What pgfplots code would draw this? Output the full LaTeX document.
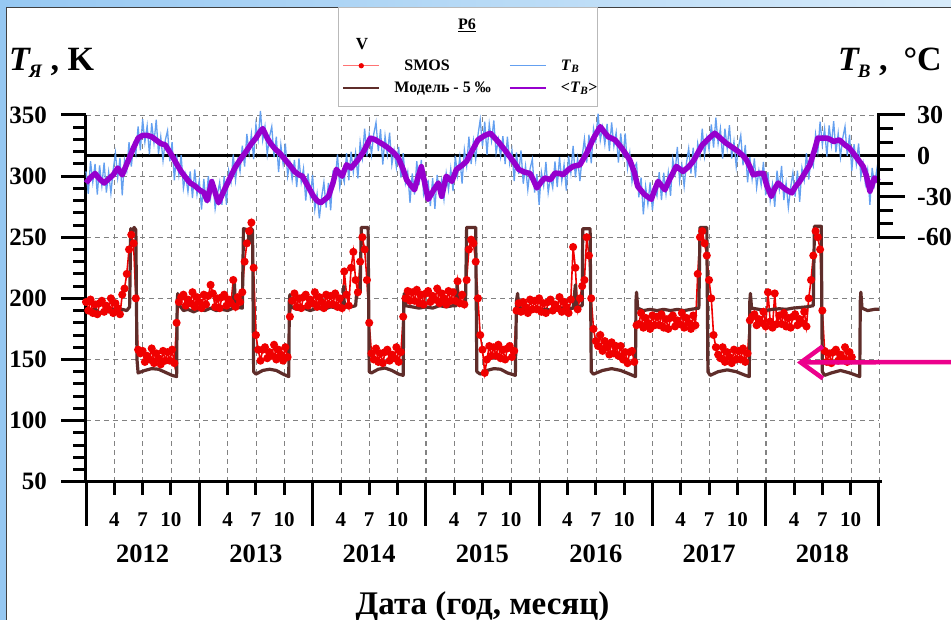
\documentclass[border=0pt]{standalone}
\usepackage{fontspec}
\setmainfont{Liberation Serif}
\usepackage{pgfplots}
\pgfplotsset{compat=1.18}
\usepackage{pgfplotstable}
\usetikzlibrary{arrows.meta}

\definecolor{tbblue}{RGB}{100,160,240}
\definecolor{tbpurple}{RGB}{150,0,205}
\definecolor{modelbrown}{RGB}{95,45,42}
\definecolor{smosred}{RGB}{240,0,0}
\definecolor{gridgray}{RGB}{130,130,130}
\definecolor{edgeblue}{RGB}{150,200,242}
\definecolor{topblueR}{RGB}{215,235,250}

\newcommand{\fs}[1]{\fontsize{#1}{#1}\selectfont\bfseries}

\pgfplotsset{
 base/.style={at={(86pt,138.3pt)}, anchor=south west, scale only axis,
   width=793pt, height=366.7pt, xmin=2012, xmax=2019},
 gridsty/.style={grid style={dash pattern=on 5pt off 4pt, gridgray, line width=0.8pt}},
 thickticks/.style={tick style={black,line width=3pt}, major tick style={line width=3pt}, minor tick style={line width=3pt}},
}

% T_B (air temperature, deg C), sampled every 0.02 yr from 2012.00
\pgfplotstableread[row sep=\\]{
y\\
-11.5\\-28\\-4\\-19.5\\-6\\-28.5\\-7\\-22\\-5\\-27\\
-12\\-27.5\\-10.5\\2\\-16\\-1.5\\-29\\-3\\-11\\10\\
-8\\8\\1\\21.5\\4\\27\\10\\22\\1\\24\\
9.5\\26.5\\1.5\\14\\-3.5\\11.5\\18.5\\-4\\10\\-18\\
1\\-14\\0.5\\-24\\-14\\-26.5\\-11.5\\-31\\-10\\-28.5\\
-18\\-39.5\\-17\\-34.5\\-15\\-30.5\\-17\\-39\\-28.5\\-19.5\\
-36\\-15\\-36\\-11\\-19.5\\1\\-18\\-3.5\\-11.5\\7.5\\
-8\\16\\1.5\\16\\-2.5\\23\\12\\33\\11.5\\21.5\\
1\\14\\21.5\\-1\\14\\-12\\8\\-6\\9\\-15\\
-5\\-17.5\\-3\\-23\\-2\\-19.5\\-9.5\\-33\\-13\\-30\\
-14\\-39.5\\-28\\-46\\-30.5\\-19.5\\-38\\-20\\-40\\-13\\
-18\\1\\-23\\-13\\-19.5\\1.9\\-18\\3\\-12\\2\\
-16.5\\10\\-1.5\\20\\-0.5\\16\\1\\16\\24.5\\3.5\\
19.5\\-6.5\\14.5\\1\\17\\-6.5\\4\\-8.5\\6.5\\-16\\
2\\-20\\-12\\-34.5\\-13\\-28.5\\-4\\-21.5\\-3\\-28\\
-20.5\\-18.5\\-37\\-16.5\\-39\\-14\\-28\\-17.8\\-32\\-13\\
-25\\-9.5\\-26\\0\\-14.5\\-1\\-20.5\\4.5\\-7.5\\14\\
-6\\11\\-3\\15.2\\26.5\\7\\25\\0.8\\23.4\\11\\
26\\2\\12\\-0.5\\14.5\\-6\\14\\-5.5\\4\\-18.5\\
2.5\\-13.5\\4\\-20.5\\-7.5\\-25\\-9.5\\-2.5\\-27\\-13.6\\
-36\\-12\\-22\\-4.5\\-27\\-15.6\\-23.5\\-4.2\\-23\\-1\\
-18.5\\-6.5\\-25.5\\0\\-12.5\\7.2\\-15.9\\-2\\-18.6\\-0.5\\
12.5\\-5\\15.5\\-5.5\\20\\11\\31\\11.4\\21\\8.5\\
23.5\\3.5\\24.5\\7\\17\\-5\\16.5\\0.5\\16.5\\-9\\
2\\-19\\-8.5\\-5.5\\-30.5\\-16\\-43\\-22.5\\-35.5\\-19.5\\
-40\\-23\\-29.5\\-12\\-32.5\\-12.5\\-28\\-12.5\\-29.5\\-2.5\\
-12.5\\6.5\\-18.5\\-6.5\\-22.5\\-5.5\\5.5\\-13\\6\\-16\\
9\\0\\20\\0\\13.5\\4.5\\23\\6\\28\\9\\
20\\-2\\20\\5.5\\22.5\\-2\\10.5\\-8\\6.5\\15\\
-7\\8\\-19.5\\-1\\-17\\-2\\-23.5\\-11\\-21.5\\-4.5\\
-29\\-12\\-33\\-21\\-37.5\\-11\\-24.5\\-7.5\\-32.5\\-20\\
-38\\-23.5\\-12.5\\-30\\-11\\-33.8\\-9\\-18\\2\\-17.5\\
-2\\-7.5\\15.5\\3\\25\\8\\20\\-0.5\\22.3\\8\\
25.5\\2.5\\16.5\\-1\\13\\21.5\\0\\15.6\\-11\\8.5\\
-6\\9\\-15.5\\-5.8\\-20.5\\-10.5\\-36\\-9\\-21.3\\-10.5\\
-32.3\\
}\tblue

% SMOS brightness temperature (K), sampled every 0.02 yr from 2012.00
\pgfplotstableread[row sep=\\]{
y\\
197\\190\\199\\188\\195\\187\\196\\198\\189\\194\\
191\\200\\188\\196\\192\\187\\203\\208\\220\\240\\
252\\245\\200\\158\\155\\157\\148\\153\\150\\159\\
147\\155\\151\\146\\157\\149\\156\\149\\158\\147\\
180\\197\\201\\203\\194\\199\\196\\205\\193\\201\\
197\\192\\203\\195\\202\\211\\204\\193\\200\\192\\
201\\203\\194\\199\\196\\215\\193\\201\\197\\205\\
230\\245\\255\\262\\225\\170\\158\\149\\158\\160\\
151\\156\\153\\162\\150\\158\\154\\149\\160\\152\\
185\\198\\204\\193\\200\\192\\201\\203\\194\\199\\
196\\205\\193\\201\\197\\192\\203\\195\\202\\195\\
204\\193\\200\\192\\222\\203\\194\\225\\238\\215\\
205\\230\\250\\240\\215\\180\\155\\150\\159\\148\\
155\\147\\156\\158\\149\\154\\151\\160\\148\\156\\
185\\200\\206\\198\\205\\198\\207\\196\\203\\195\\
204\\206\\197\\202\\199\\208\\196\\204\\200\\195\\
206\\198\\205\\198\\214\\196\\203\\195\\215\\240\\
248\\245\\230\\200\\170\\158\\139\\150\\161\\153\\
160\\153\\162\\151\\158\\150\\159\\161\\152\\157\\
190\\196\\189\\197\\193\\188\\199\\191\\198\\191\\
200\\189\\196\\188\\197\\199\\190\\195\\192\\201\\
189\\197\\193\\188\\199\\242\\225\\191\\200\\210\\
215\\250\\235\\200\\175\\165\\161\\170\\157\\165\\
160\\154\\164\\155\\161\\153\\161\\150\\156\\147\\
156\\157\\148\\178\\179\\188\\176\\184\\180\\175\\
186\\178\\185\\178\\187\\176\\183\\175\\184\\186\\
177\\182\\179\\188\\176\\184\\180\\175\\186\\178\\
220\\250\\255\\245\\235\\215\\200\\170\\160\\154\\
151\\160\\148\\156\\152\\147\\158\\150\\157\\150\\
159\\148\\155\\182\\185\\187\\178\\183\\180\\189\\
177\\205\\181\\176\\204\\179\\186\\179\\188\\177\\
184\\176\\185\\187\\178\\183\\180\\189\\177\\200\\
215\\235\\255\\250\\240\\190\\157\\148\\155\\147\\
156\\158\\149\\154\\151\\160\\148\\156\\152\\
}\tred

\begin{document}
\begin{tikzpicture}
\useasboundingbox (0pt,0pt) rectangle (951pt,620pt);
\fill[edgeblue] (0pt,0pt) rectangle (951pt,620pt);
\shade[left color=edgeblue, right color=topblueR] (0pt,612pt) rectangle (951pt,620pt);
\fill[white] (6pt,0pt) rectangle (951pt,613pt);
\draw[line width=1pt, black!75] (6.5pt,0pt) -- (6.5pt,612.5pt) -- (951pt,612.5pt);

% legend frame and header
\draw[gray!55, line width=0.8pt, fill=white] (338pt,514pt) rectangle (597pt,612.5pt);
\node at (467pt,595pt) {\fs{16}\underline{Р6}};
\node at (362pt,576pt) {\fs{17}V};

% year separators, quarter ticks, vertical grid
\begin{axis}[base, ymin=50, ymax=350, clip=false,
  axis x line*=bottom, axis y line=none,
  xtick={2012,2013,...,2019}, xticklabels={},
  minor xtick={2012,2012.25,...,2019},
  tick align=outside, major tick length=44pt, minor tick length=13pt,
  thickticks,
  xmajorgrids, xminorgrids, gridsty]
\end{axis}

% month labels
\begin{axis}[base, ymin=50, ymax=350,
  axis x line*=bottom, axis y line=none,
  x axis line style={draw=none},
  major tick length=0pt, tick style={draw=none},
  xtick={2012.25,2012.5,2012.75,2013.25,2013.5,2013.75,2014.25,2014.5,2014.75,2015.25,2015.5,2015.75,2016.25,2016.5,2016.75,2017.25,2017.5,2017.75,2018.25,2018.5,2018.75},
  xticklabels={4,7,10,4,7,10,4,7,10,4,7,10,4,7,10,4,7,10,4,7,10},
  xticklabel style={anchor=base, inner sep=0pt, yshift=-45pt, font=\fs{21}}]
\end{axis}

% year labels and axis title
\begin{axis}[base, ymin=50, ymax=350,
  axis x line*=bottom, axis y line=none,
  x axis line style={draw=none},
  major tick length=0pt, tick style={draw=none},
  xtick={2012.5,2013.5,2014.5,2015.5,2016.5,2017.5,2018.5},
  xticklabels={2012,2013,2014,2015,2016,2017,2018},
  xticklabel style={anchor=base, inner sep=0pt, yshift=-81pt, font=\fs{26.5}},
  xlabel={Дата (год, месяц)},
  xlabel style={at={(axis description cs:0.5,0)}, anchor=base, inner sep=0pt, yshift=-133pt, font=\fs{33}}]
\end{axis}

% left axis: brightness temperature (K)
\begin{axis}[base, ymin=50, ymax=350, clip=false,
  axis y line*=left, axis x line=none,
  ytick={50,100,...,350}, minor y tick num=4,
  tick align=outside, major tick length=25pt, minor tick length=13pt,
  thickticks,
  ymajorgrids, gridsty,
  /pgf/number format/assume math mode=true,
  yticklabel style={font=\fs{25}, anchor=east, inner sep=0pt, xshift=-14pt}]
\addplot[smosred, line width=1.6pt, mark=*, mark size=3.2pt,
  mark options={draw=smosred, fill=smosred}]
  table[x expr=2012+0.02*\coordindex, y=y] {\tred};
\addplot[modelbrown, line width=3.2pt, line join=round] coordinates {
(2012.00,190) (2012.04,189) (2012.08,191) (2012.12,188) (2012.16,190) (2012.20,189)
(2012.24,191) (2012.28,190) (2012.32,191) (2012.36,190) (2012.385,193) (2012.395,257)
(2012.41,255) (2012.425,258) (2012.44,256) (2012.45,150) (2012.46,139) (2012.52,141)
(2012.58,142.5) (2012.64,142) (2012.70,139.5) (2012.76,137) (2012.80,136) (2012.805,198)
(2012.81,204) (2012.82,195) (2012.86,190) (2012.90,191) (2012.95,189) (2013.00,191)
(2013.05,190) (2013.10,192) (2013.15,190) (2013.20,191) (2013.25,190) (2013.30,192)
(2013.31,212) (2013.32,193) (2013.38,192) (2013.39,257) (2013.43,256) (2013.44,245)
(2013.45,257) (2013.47,256) (2013.48,140) (2013.50,138) (2013.56,141) (2013.62,142)
(2013.68,141) (2013.74,138) (2013.79,136) (2013.795,198) (2013.80,203) (2013.81,193)
(2013.86,191) (2013.92,192) (2013.98,190) (2014.04,192) (2014.10,191) (2014.16,193)
(2014.22,192) (2014.27,193) (2014.275,210) (2014.28,194) (2014.34,193) (2014.38,194)
(2014.39,205) (2014.42,205) (2014.43,258) (2014.49,258) (2014.50,140) (2014.52,139)
(2014.58,142) (2014.64,143) (2014.70,141) (2014.76,138) (2014.80,137) (2014.805,200)
(2014.81,204) (2014.82,194) (2014.88,193) (2014.94,192) (2015.00,193) (2015.06,192)
(2015.12,194) (2015.18,193) (2015.24,194) (2015.27,194) (2015.275,212) (2015.28,195)
(2015.35,194) (2015.36,258) (2015.44,258) (2015.45,140) (2015.48,138) (2015.54,141)
(2015.60,142.5) (2015.66,142) (2015.72,139) (2015.79,137) (2015.80,198) (2015.81,204)
(2015.82,193) (2015.88,190) (2015.94,191) (2016.00,190) (2016.06,191) (2016.12,190)
(2016.18,192) (2016.24,191) (2016.30,192) (2016.32,211) (2016.33,193) (2016.38,194)
(2016.385,257) (2016.45,257) (2016.46,140) (2016.48,138) (2016.56,141) (2016.64,142.5)
(2016.72,141) (2016.80,138) (2016.85,136) (2016.855,198) (2016.86,205) (2016.87,192)
(2016.92,190) (2016.98,191) (2017.04,190) (2017.10,191) (2017.16,190) (2017.22,191)
(2017.28,190) (2017.34,191) (2017.41,192) (2017.42,258) (2017.48,258) (2017.49,140)
(2017.51,137) (2017.58,140) (2017.66,141.5) (2017.74,140) (2017.82,137) (2017.855,136)
(2017.86,198) (2017.865,204) (2017.875,192) (2017.94,191) (2018.00,190) (2018.06,191)
(2018.12,191.5) (2018.18,191) (2018.24,192) (2018.30,192.5) (2018.36,193) (2018.42,194)
(2018.43,259) (2018.49,259) (2018.50,140) (2018.52,137) (2018.58,139) (2018.66,141)
(2018.74,139) (2018.80,137) (2018.83,136) (2018.835,198) (2018.84,205) (2018.85,192)
(2018.90,190) (2018.96,191) (2019.00,191)};
\draw[line width=3pt] (axis cs:2012,350) -- (axis cs:2012,50);
\draw[line width=3pt] ([xshift=-1.5pt]axis cs:2012,50) -- ([xshift=3pt]axis cs:2019,50);
\end{axis}

% right axis: air temperature (deg C)
\begin{axis}[base, ymin=-239.6, ymax=30, clip=false,
  axis y line*=right, axis x line=none,
  y axis line style={draw=none},
  ytick={-60,-30,0,30}, yticklabels={-60,-30,0,30}, minor y tick num=2,
  tick align=outside, major tick length=26pt, minor tick length=14pt,
  thickticks,
  yticklabel style={font=\fs{26}, anchor=west, inner sep=0pt, xshift=12pt},
  legend columns=2, legend cell align=left,
  legend image code/.code={\draw[mark repeat=2,mark phase=2,#1] plot coordinates {(0pt,0pt) (18pt,0pt) (36pt,0pt)};},
  legend style={at={(axis description cs:0.3228,1.1568)}, anchor=north west,
    draw=none, fill=none, inner sep=0pt, font=\fs{16},
    column sep=12pt, row sep=6pt,
    /tikz/every even column/.append style={column sep=16pt}}]
\addlegendimage{color=red!55, line width=1.2pt, mark=*, mark size=2pt, mark options={fill=smosred, draw=smosred}}
\addlegendentry{\hspace{10pt}SMOS}
\addlegendimage{tbblue, line width=1.5pt}
\addlegendentry{\textit{T}\textsubscript{\textit{В}}}
\addlegendimage{modelbrown, line width=2.2pt}
\addlegendentry{Модель - 5 ‰}
\addlegendimage{tbpurple, line width=2.2pt}
\addlegendentry{<\textit{T}\textsubscript{\textit{В}}>}
\addplot[black, line width=2.8pt, forget plot] coordinates {(2012,0) (2019,0)};
\addplot[tbblue, line width=1.3pt, forget plot]
  table[x expr=2012+0.02*\coordindex, y=y] {\tblue};
\addplot[tbpurple, line width=5.5pt, line join=round, forget plot] coordinates {
(2012.00,-20) (2012.04,-16) (2012.08,-13) (2012.12,-17) (2012.16,-20) (2012.20,-17)
(2012.24,-14) (2012.28,-9) (2012.32,-14) (2012.36,-6) (2012.42,6) (2012.46,13)
(2012.50,15) (2012.54,15) (2012.58,14) (2012.62,11.5) (2012.66,9) (2012.70,8)
(2012.73,4) (2012.76,0) (2012.80,-6) (2012.84,-11.5) (2012.88,-16) (2012.92,-20)
(2012.96,-22) (2013.00,-25) (2013.04,-27) (2013.07,-33) (2013.09,-26) (2013.11,-19)
(2013.14,-27) (2013.17,-34.5) (2013.21,-27) (2013.25,-20) (2013.29,-13) (2013.32,-8)
(2013.36,-3) (2013.42,4) (2013.46,9) (2013.50,13) (2013.53,17) (2013.56,20)
(2013.60,13) (2013.63,9) (2013.67,5) (2013.71,2) (2013.75,-2) (2013.80,-7)
(2013.84,-11.5) (2013.88,-14) (2013.91,-15) (2013.95,-21) (2014.01,-30) (2014.04,-33)
(2014.07,-34.6) (2014.11,-32) (2014.14,-30) (2014.18,-20) (2014.21,-10) (2014.26,-15)
(2014.30,-6.6) (2014.34,-9) (2014.40,-3) (2014.45,3) (2014.48,8) (2014.51,13)
(2014.55,12) (2014.58,10.5) (2014.63,8) (2014.67,5.6) (2014.72,2) (2014.76,-2)
(2014.80,-10) (2014.83,-17.6) (2014.87,-22) (2014.90,-25) (2014.93,-16) (2014.96,-8)
(2014.99,-20) (2015.02,-32) (2015.05,-28) (2015.07,-25) (2015.11,-20) (2015.14,-29.8)
(2015.18,-15) (2015.23,-18.8) (2015.27,-10) (2015.32,-7) (2015.36,-4) (2015.41,4)
(2015.46,11.7) (2015.52,15) (2015.57,16.6) (2015.61,13) (2015.65,9.3) (2015.70,4)
(2015.74,-0.5) (2015.78,-5) (2015.82,-10) (2015.87,-12) (2015.92,-13) (2015.95,-18)
(2015.98,-23.6) (2016.02,-19) (2016.05,-16.3) (2016.10,-17.6) (2016.14,-12.7) (2016.18,-13)
(2016.21,-14) (2016.26,-10) (2016.30,-7.8) (2016.36,-6.6) (2016.42,2) (2016.48,13)
(2016.54,21.4) (2016.58,17) (2016.61,14) (2016.67,11.7) (2016.73,5.6) (2016.80,-3)
(2016.84,-12) (2016.87,-22.5) (2016.93,-28.5) (2016.99,-32) (2017.02,-25) (2017.05,-18.8)
(2017.11,-25) (2017.15,-17.6) (2017.21,-7.8) (2017.27,-11.5) (2017.32,-8) (2017.36,-4)
(2017.40,2) (2017.44,8) (2017.50,13) (2017.55,16.6) (2017.60,13) (2017.65,9.3)
(2017.71,6) (2017.76,3) (2017.80,0) (2017.83,-3) (2017.86,-8) (2017.89,-14)
(2017.94,-13) (2017.98,-13) (2018.01,-22) (2018.05,-29.8) (2018.08,-24) (2018.11,-20)
(2018.15,-23) (2018.18,-25) (2018.23,-27.3) (2018.26,-23) (2018.30,-18.8) (2018.35,-12)
(2018.39,-6.6) (2018.43,4) (2018.46,13) (2018.50,13) (2018.54,13) (2018.57,12)
(2018.60,10.5) (2018.65,11.7) (2018.70,8) (2018.74,5.6) (2018.80,-1) (2018.86,-7.8)
(2018.89,-15) (2018.92,-26) (2018.96,-16.3) (2019.00,-18.8)};
\draw[line width=3pt] ([yshift=-1.5pt]axis cs:2019,-60) -- ([yshift=1.5pt]axis cs:2019,30);
\end{axis}

% axis titles
\node[anchor=base west, inner sep=0pt] at (9pt,549pt)
  {\fs{34}\itshape T\kern-1pt\raisebox{-7pt}{\fontsize{19}{19}\selectfont Я}\upshape\ , K};
\node[anchor=base west, inner sep=0pt] at (838pt,549pt)
  {\fs{34}\itshape T\kern-1pt\raisebox{-7pt}{\fontsize{19}{19}\selectfont В}\upshape\ ,\hspace{16pt}°C};

% arrow
\draw[line width=4.5pt, magenta, -{Straight Barb[length=22pt,width=32pt]}]
  (960pt,258pt) -- (797pt,257.5pt);
\end{tikzpicture}
\end{document}
